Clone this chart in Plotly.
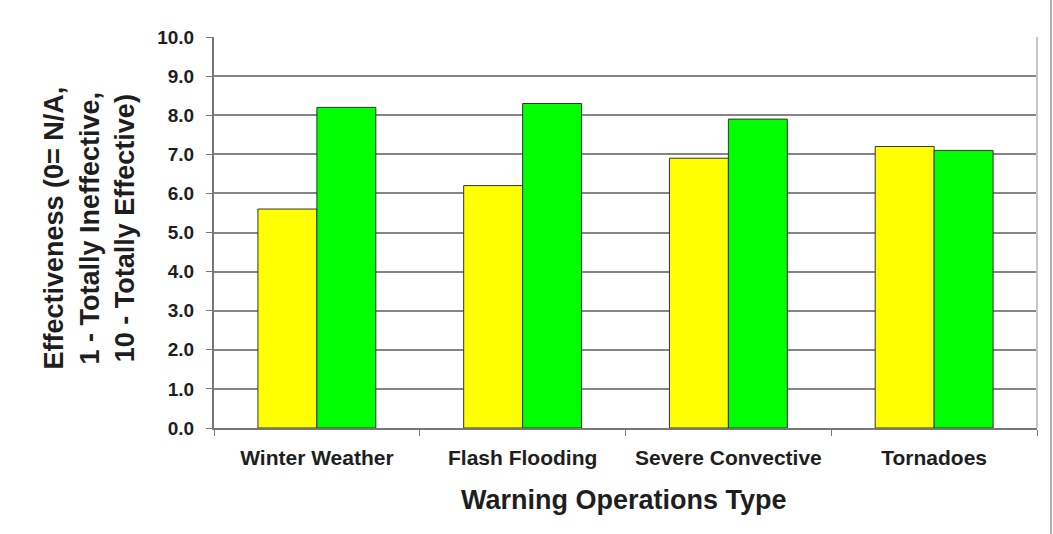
import plotly.graph_objects as go

# Warning operation categories and effectiveness ratings
categories = ["Winter Weather", "Flash Flooding", "Severe Convective", "Tornadoes"]
yellow_values = [5.6, 6.2, 6.9, 7.2]
green_values = [8.2, 8.3, 7.9, 7.1]
y_ticks = [0, 1, 2, 3, 4, 5, 6, 7, 8, 9, 10]
y_tick_labels = [f"{v:.1f}" for v in y_ticks]

FONT = "Liberation Sans, Arial, sans-serif"
TEXT = "#1e1e1e"

fig = go.Figure()
fig.add_trace(go.Bar(
    x=categories, y=yellow_values, name="Series 1",
    marker=dict(color="#FFFF00", line=dict(color="#333333", width=1)),
))
fig.add_trace(go.Bar(
    x=categories, y=green_values, name="Series 2",
    marker=dict(color="#00FF00", line=dict(color="#333333", width=1)),
))

fig.update_layout(
    width=1053, height=534,
    margin=dict(l=214, r=16, t=37, b=106),
    paper_bgcolor="white", plot_bgcolor="white",
    barmode="group", bargap=0.427, bargroupgap=0,
    showlegend=False,
    font=dict(family=FONT, color=TEXT),
    xaxis=dict(
        tickson="boundaries", ticks="outside", ticklen=6, tickcolor="#777777",
        showline=True, linecolor="#777777", linewidth=2,
        tickfont=dict(size=21, family=FONT, color=TEXT, weight="bold"),
        ticklabelstandoff=10,
        showgrid=False,
    ),
    yaxis=dict(
        range=[0, 10], tickvals=y_ticks, ticktext=y_tick_labels,
        ticks="outside", ticklen=6, tickcolor="#777777",
        showline=True, linecolor="#777777", linewidth=2,
        showgrid=True, gridcolor="#858585", gridwidth=2,
        zeroline=False,
        tickfont=dict(size=19, family=FONT, color=TEXT, weight="bold"),
        ticklabelstandoff=8,
    ),
    annotations=[
        dict(
            text="<b>Effectiveness (0= N/A,<br>1 - Totally Ineffective,<br>10 - Totally Effective)</b>",
            xref="paper", yref="paper", x=0, y=0.51, xshift=-125,
            xanchor="center", yanchor="middle", textangle=-90,
            showarrow=False, font=dict(size=27, family=FONT, color=TEXT),
        ),
        dict(
            text="<b>Warning Operations Type</b>",
            xref="paper", yref="paper", x=0.498, y=0, yshift=-72,
            xanchor="center", yanchor="middle",
            showarrow=False, font=dict(size=27, family=FONT, color=TEXT),
        ),
    ],
    shapes=[
        dict(type="line", xref="paper", yref="paper", x0=1, x1=1, y0=0, y1=1,
             line=dict(color="#c8c8c8", width=2)),
        dict(type="line", xref="paper", yref="paper", x0=1.017, x1=1.017,
             y0=-0.28, y1=1.1, line=dict(color="#b0b0b0", width=2)),
    ],
)

fig.write_html("out.html")
